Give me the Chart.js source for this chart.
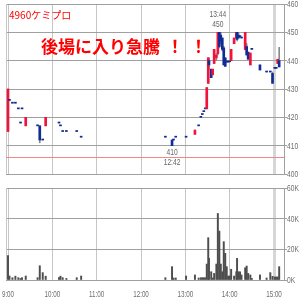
<!DOCTYPE html>
<html><head><meta charset="utf-8">
<script src="https://cdn.jsdelivr.net/npm/chart.js@4.4.1/dist/chart.umd.min.js"></script>
<style>
html,body{margin:0;padding:0;background:#fff;}
#wrap{position:relative;width:300px;height:300px;overflow:hidden;background:#fff;}
.box{position:absolute;left:0;width:300px;}
</style></head><body>
<div id="wrap">
<div class="box" style="top:0;height:180px"><canvas id="c1" width="300" height="180"></canvas></div>
<div class="box" style="top:180px;height:120px"><canvas id="c2" width="300" height="120"></canvas></div>
</div>
<script>
// ---- data ----
const title = '4960ケミプロ';
const headline = '後場に入り急騰';
const headlineMarks = ['！', '！'];
const prevClose = 406;
const hourLabels = ['9:00','10:00','11:00','12:00','13:00','14:00','15:00'];
const priceTicks = [400,410,420,430,440,450,460];
const volumeTicks = [0,20000,40000,60000];
const volumeTickLabels = ['0K','20K','40K','60K'];

const times = ['9:00','9:02','9:06','9:10','9:14','9:17','9:19','9:24','9:40','9:43','9:47','9:51',
  '10:09','10:11','10:14','10:19','10:33','10:39',
  '12:33','12:42','12:44','12:47','13:01','13:13','13:18','13:21','13:23','13:25','13:27','13:29',
  '13:31','13:32','13:35','13:37','13:39','13:42','13:44','13:46','13:48','13:50','13:52','13:54',
  '13:56','13:58','14:00','14:02','14:06','14:09','14:10','14:12','14:14','14:16','14:21','14:23',
  '14:25','14:28','14:30','14:41','14:50','14:55','14:58','15:01','15:03','15:05','15:07'];
const opens  = [415,426,425,425,423,418,423,417,417,417,412,417,
  418,417,415,415,415,413,
  413,412,412,413,413,414,417,420,421,422,423,423,
  432,440,437,435,439,441,442.5,450,449,448,444.5,441,
  439.5,439.5,439.6,440,446,448,450,449,448.5,448,444,445,
  443,438.5,444,438.5,436,436,435.5,437.3,437.3,439,440];
const highs  = [430,426,425,425,423,418,423,420,417,417,412,420,
  418,417,415,415,415,413,
  413,412,412,413,413,415.5,417,420,421,422,423,430.5,
  441,441,437,437,444,442.5,450,450,450,448,445,441,
  439.5,439.5,439.6,444,448,450,450,450,448.5,448,450,446,
  443,442.7,444,438.5,436,436,436,437.3,437.3,440.5,444.7];
const lows   = [415,426,425,425,423,418,423,417,417,411,412,417,
  418,417,415,415,415,413,
  413,410,412,413,413,414,417,420,421,422,423,423,
  432,437,434,435,439,440,442,444.5,446,443.5,438.5,438,
  439.5,439.5,439.6,440,446,448,447,448,448.5,448,443.8,442,
  440.5,438.5,444,436.7,436,436,432,437.3,437.3,439,437.8];
const closes = [430,426,425,425,423,418,423,420,417,412,412,420,
  418,417,415,415,415,413,
  413,410,412,413,413,415.5,417,420,421,422,423,430.5,
  441,438.5,434,437,444,442,450,445,447,444,438.5,438,
  439.5,439.5,439.6,444,448,450,447.5,448,448.5,448,450,442,
  440.5,442.7,444,436.7,436,436,432,437.3,437.3,440.5,437.8];
const volumes = [16000,2600,1500,2500,1500,1000,1500,2600,1500,9300,4800,2500,
  1500,2500,1500,1000,1500,2600,
  1500,8700,1300,1300,2600,3300,1300,1500,1500,1500,1500,10400,
  27600,14100,5400,1300,4300,10400,43400,31900,10400,5400,25000,17400,
  8700,2600,2600,7000,2600,5400,14100,5400,5400,3300,8000,9100,
  4300,3300,1000,3300,1300,4800,2400,2000,2000,2000,8700];

// ---- helpers ----
const toMin = t => { const p = t.split(':').map(Number); return (p[0]-9)*60 + p[1]; };
const xs = times.map(toMin);
const hourTicks = hourLabels.map(toMin);
const lastHour = hourTicks[hourTicks.length-1];
const X_MIN = -2.707, X_MAX = 373.53;
const RED = '#f0143c', BLUE = '#102c96', WICK = '#8a8a8a', VOLC = '#4e4e4e';
const LBL_FONT = "'Liberation Sans','Arial',sans-serif";
const JP = "'Noto Sans CJK JP','Noto Sans CJK SC',sans-serif";
const HGRID = '#a0a0a0', VGRID = '#c6c6c6', BAND = '#d6d6d6', LABEL = '#6e6e6e';
const SQUEEZE = 0.74;

function narrowText(ctx, text, x, y, size, align, baseline, color){
  ctx.save();
  ctx.font = size + 'px ' + LBL_FONT;
  ctx.fillStyle = color; ctx.textAlign = align; ctx.textBaseline = baseline;
  ctx.translate(x, y); ctx.scale(SQUEEZE, 1);
  ctx.fillText(text, 0, 0);
  ctx.restore();
}

const bodyData = xs.map((x,i)=>({x, y:[opens[i], closes[i]]}));
const wickData = xs.map((x,i)=>({x, y:[lows[i], highs[i]]}));
const bodyColors = opens.map((o,i)=> closes[i] > o ? RED : BLUE);
const volData = xs.map((x,i)=>({x, y: volumes[i]}));

function xScaleCfg(height){
  return {
    type:'linear', min:X_MIN, max:X_MAX, offset:false,
    afterBuildTicks: s => { s.ticks = hourTicks.map(v=>({value:v})); },
    ticks:{ display:false },
    grid:{ offset:false, drawTicks:false,
           color: c => (c.tick && c.tick.value===lastHour) ? BAND : VGRID,
           lineWidth: c => (c.tick && c.tick.value===lastHour) ? 3 : 1 },
    border:{ display:false },
    afterFit: s => { s.height = height; s.paddingLeft = 0; s.paddingRight = 0; }
  };
}
function yScaleCfg(min, max, tickVals){
  return {
    type:'linear', position:'right', min, max,
    afterBuildTicks: s => { s.ticks = tickVals.map(v=>({value:v})); },
    ticks:{ display:false },
    grid:{ color:HGRID, tickLength:3, tickColor:HGRID },
    border:{ color:HGRID },
    afterFit: s => { s.width = 16; s.paddingTop = 0; s.paddingBottom = 0; }
  };
}

function axisLabels(yLabels, xLabels){
  return {
    id:'axisLabels',
    afterDraw(chart){
      const {ctx, chartArea:a, scales:{x, y}} = chart;
      y.ticks.forEach((t,i)=>{
        narrowText(ctx, yLabels[i], a.right + 3, y.getPixelForValue(t.value) + 0.5, 9, 'left', 'middle', LABEL);
      });
      if (xLabels) {
        x.ticks.forEach((t,i)=>{
          narrowText(ctx, xLabels[i], x.getPixelForValue(t.value), a.bottom + 10, 8.5, 'center', 'top', LABEL);
        });
      }
    }
  };
}

const leftBorder = {
  id:'leftBorder',
  beforeDatasetsDraw(chart){
    const {ctx, chartArea:a} = chart;
    ctx.save(); ctx.strokeStyle = VGRID; ctx.lineWidth = 1;
    ctx.beginPath(); ctx.moveTo(Math.round(a.left)+0.5, a.top); ctx.lineTo(Math.round(a.left)+0.5, a.bottom); ctx.stroke();
    ctx.restore();
  }
};

const priceOverlay = {
  id:'priceOverlay',
  beforeDatasetsDraw(chart){
    const {ctx, chartArea:a, scales:{y}} = chart;
    const py = Math.round(y.getPixelForValue(prevClose)) + 0.5;
    ctx.save(); ctx.strokeStyle = '#f08a8a'; ctx.lineWidth = 1;
    ctx.beginPath(); ctx.moveTo(a.left, py); ctx.lineTo(a.right, py); ctx.stroke();
    ctx.restore();
  },
  afterDatasetsDraw(chart){
    const {ctx, scales:{x, y}} = chart;
    ctx.save();
    ctx.fillStyle = '#ff0000';
    ctx.font = '10px ' + JP; ctx.textAlign = 'left'; ctx.textBaseline = 'alphabetic';
    ctx.fillText(title, 9, 18.5);
    ctx.font = 'bold 17px ' + JP; ctx.textBaseline = 'middle';
    ctx.fillText(headline, 41, 46.5);
    ctx.textAlign = 'center';
    ctx.fillText(headlineMarks[0], 175, 46.5);
    ctx.fillText(headlineMarks[1], 198.5, 46.5);
    ctx.restore();
    // high / low annotations
    const hi = Math.max(...highs), lo = Math.min(...lows);
    const hiIdx = highs.indexOf(hi), loIdx = lows.indexOf(lo);
    const hx = x.getPixelForValue(xs[hiIdx]), hy = y.getPixelForValue(hi);
    narrowText(ctx, String(hi), hx, hy - 3.5, 9, 'center', 'bottom', '#666');
    narrowText(ctx, times[hiIdx], hx, hy - 13.5, 9, 'center', 'bottom', '#666');
    const lx = x.getPixelForValue(xs[loIdx]), ly = y.getPixelForValue(lo);
    narrowText(ctx, String(lo), lx, ly + 2, 9, 'center', 'top', '#666');
    narrowText(ctx, times[loIdx], lx, ly + 12.5, 9, 'center', 'top', '#666');
  }
};

const common = { responsive:false, animation:false, events:[],
  plugins:{ legend:{display:false}, tooltip:{enabled:false} } };

new Chart(document.getElementById('c1'), {
  type:'bar',
  data:{ datasets:[
    { data:bodyData, backgroundColor:bodyColors, borderWidth:0, barThickness:2, minBarLength:1, grouped:false },
    { data:wickData, backgroundColor:WICK, borderWidth:0, barThickness:1, grouped:false }
  ]},
  options:Object.assign({}, common, {
    layout:{ padding:{ left:6, top:4, right:0, bottom:6 } },
    scales:{ x:xScaleCfg(0), y:yScaleCfg(400, 460, priceTicks) }
  }),
  plugins:[leftBorder, priceOverlay, axisLabels(priceTicks.map(String), null)]
});

new Chart(document.getElementById('c2'), {
  type:'bar',
  data:{ datasets:[
    { data:volData, backgroundColor:VOLC, borderWidth:0, barThickness:1.3, grouped:false }
  ]},
  options:Object.assign({}, common, {
    layout:{ padding:{ left:6, top:8, right:0, bottom:0 } },
    scales:{ x:xScaleCfg(20), y:yScaleCfg(0, 60000, volumeTicks) }
  }),
  plugins:[leftBorder, axisLabels(volumeTickLabels, hourLabels)]
});
</script>
</body></html>
